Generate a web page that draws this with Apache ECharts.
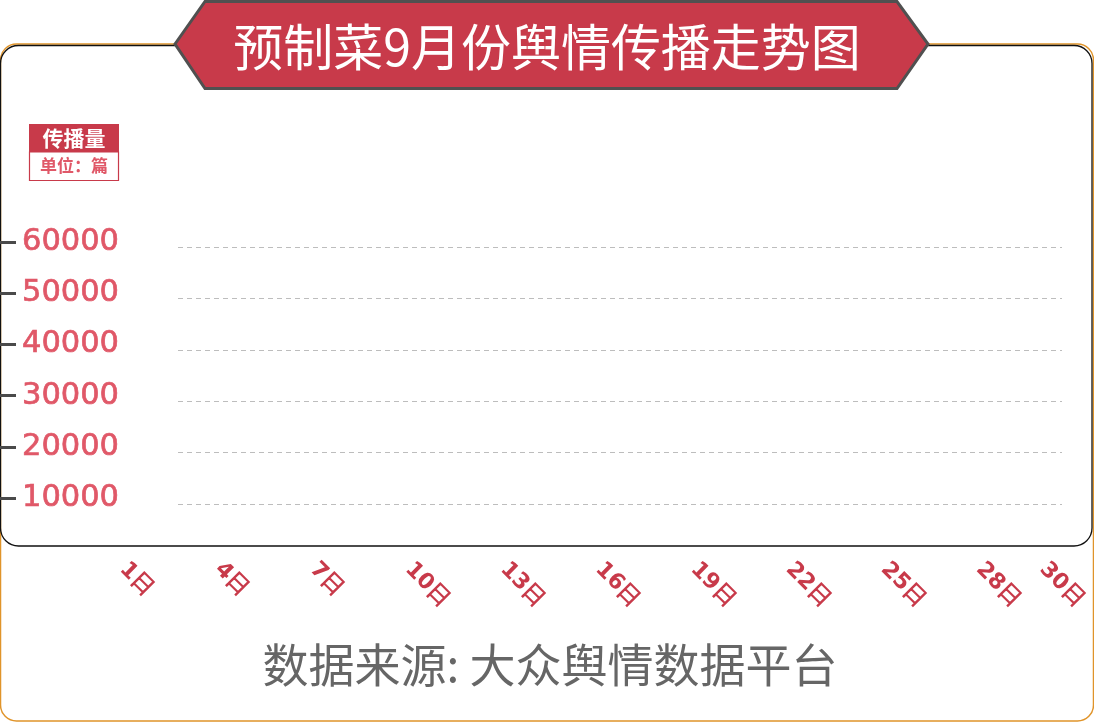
<!DOCTYPE html>
<html>
<head>
<meta charset="utf-8">
<style>
html,body{margin:0;padding:0;background:#fff;}
#chart{width:1094px;height:722px;}
</style>
<script src="https://cdn.jsdelivr.net/npm/echarts@6/dist/echarts.min.js"></script>
</head>
<body>
<div id="chart"></div>
<script>
// ---- data ----
var titleText = '预制菜9月份舆情传播走势图';
var sourceText = '数据来源: 大众舆情数据平台';
var unitTitle = '传播量';
var unitText = '单位：篇';
var days = ['1日','2日','3日','4日','5日','6日','7日','8日','9日','10日',
            '11日','12日','13日','14日','15日','16日','17日','18日','19日','20日',
            '21日','22日','23日','24日','25日','26日','27日','28日','29日','30日'];
var yTicks = [10000, 20000, 30000, 40000, 50000, 60000];
// the reference shows no plotted marks: the series is empty
var spreadValues = [];

var RED = '#c83a4a';
var PINK = '#e05868';
var chart = echarts.init(document.getElementById('chart'));
var yMin = yTicks[0], yMax = yTicks[yTicks.length - 1], yStep = yTicks[1] - yTicks[0];

chart.setOption({
  animation: false,
  backgroundColor: '#fff',
  title: {
    text: titleText, left: 'center', top: 17,
    textStyle: {color: '#fff', fontSize: 50, fontWeight: 'normal', fontFamily: 'Noto Sans CJK SC'},
    z: 20
  },
  grid: [
    {left: 178, right: 32, top: 247, height: 257},
    {left: 119, width: 10, top: 242, height: 256},
    {left: 123, right: 51, top: 247, height: 257}
  ],
  xAxis: [
    {gridIndex: 0, type: 'value', show: false},
    {gridIndex: 1, type: 'value', show: false},
    {gridIndex: 2, type: 'category', data: days, boundaryGap: false,
     axisLine: {show: false}, axisTick: {show: false}, splitLine: {show: false},
     axisLabel: {
       rotate: -45, margin: 62, color: RED, fontSize: 22, fontWeight: 'bold',
       fontFamily: 'DejaVu Sans',
       interval: function (i) { return i % 3 === 0 || i === days.length - 1; }
     }}
  ],
  yAxis: [
    {gridIndex: 0, type: 'value', min: yMin, max: yMax, interval: yStep,
     axisLine: {show: false}, axisTick: {show: false}, axisLabel: {show: false},
     splitLine: {show: true, showMinLine: true, showMaxLine: true,
       lineStyle: {color: '#bdbdbd', type: [5, 4], width: 1}}},
    {gridIndex: 1, type: 'value', position: 'left', min: yMin, max: yMax, interval: yStep,
     axisLine: {show: false}, axisTick: {show: false}, splitLine: {show: false},
     axisLabel: {margin: 0, color: PINK, fontSize: 30.5, fontFamily: 'DejaVu Sans',
       textBorderColor: PINK, textBorderWidth: 0.7, padding: [6, 0, 0, 0],
       formatter: function (v) { return String(v); }}},
    {gridIndex: 1, type: 'value', position: 'left', min: yMin, max: yMax, interval: yStep, offset: 119,
     axisLine: {show: false}, splitLine: {show: false}, axisLabel: {show: false},
     axisTick: {show: true, inside: true, length: 16, lineStyle: {color: '#4a4a4a', width: 3}}},
    {gridIndex: 2, type: 'value', min: yMin, max: yMax, interval: yStep, show: false}
  ],
  series: [
    {type: 'line', name: unitTitle, xAxisIndex: 2, yAxisIndex: 3, data: spreadValues,
     lineStyle: {color: RED}, itemStyle: {color: RED}}
  ],
  graphic: [
    // outer orange frame
    {type: 'rect', z: -10, shape: {x: 0.5, y: 44, width: 1093, height: 677, r: 16},
     style: {fill: 'none', stroke: '#e0942a', lineWidth: 1.5}},
    // inner black frame
    {type: 'rect', z: -9, shape: {x: 0.5, y: 45.5, width: 1091.5, height: 500.5, r: 18},
     style: {fill: 'none', stroke: '#111', lineWidth: 1.3}},
    // title banner
    {type: 'polygon', z: 10,
     shape: {points: [[175, 44], [205, 1.5], [897, 1.5], [928, 44], [897, 88.5], [205, 88.5]]},
     style: {fill: RED, stroke: '#505050', lineWidth: 3}},
    // unit box
    {type: 'rect', z: 10, shape: {x: 29, y: 124, width: 90, height: 28},
     style: {fill: RED}},
    {type: 'rect', z: 10, shape: {x: 29.5, y: 152, width: 89, height: 28.5},
     style: {fill: '#fff', stroke: RED, lineWidth: 1.2}},
    {type: 'text', z: 11, x: 74, y: 138,
     style: {text: unitTitle, fill: '#fff', font: 'bold 21px "Noto Sans CJK SC"', align: 'center', verticalAlign: 'middle'}},
    {type: 'text', z: 11, x: 74, y: 166,
     style: {text: unitText, fill: PINK, font: 'bold 17px "Noto Sans CJK SC"', align: 'center', verticalAlign: 'middle'}},
    // source note
    {type: 'text', z: 11, x: 550, y: 665,
     style: {text: sourceText, fill: '#666', font: '46px "Noto Sans CJK SC"', align: 'center', verticalAlign: 'middle'}}
  ]
});
</script>
</body>
</html>
